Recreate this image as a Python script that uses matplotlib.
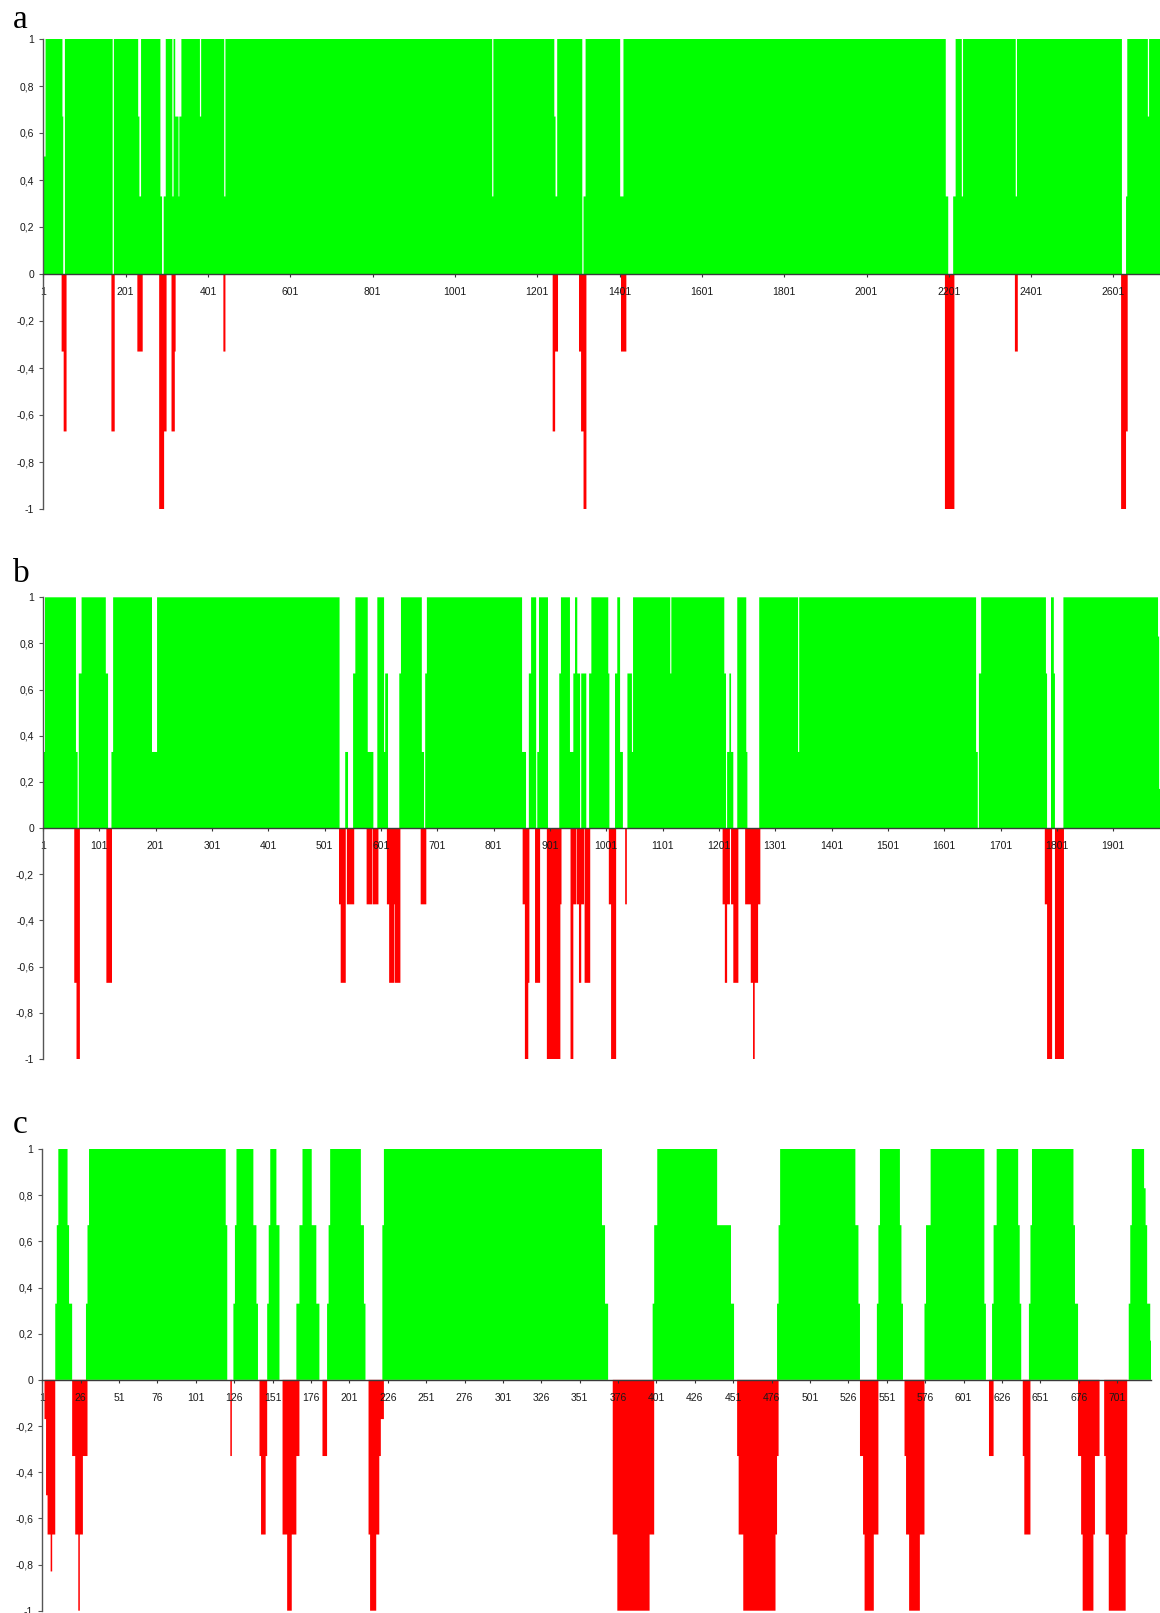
import numpy as np
import matplotlib
matplotlib.use("Agg")
import matplotlib.pyplot as plt
from matplotlib.ticker import FixedLocator, FuncFormatter

plt.rcParams['font.family'] = ['Liberation Sans', 'DejaVu Sans']

GREEN = '#00ff00'
RED = '#ff0000'

# Each run is (first position, last position, value), positions are 1-based.
# Positive series of a and b sit at 1 except inside the listed runs,
# every other series is 0 outside its runs.

# ---- panel a ----
A_LENGTH = 2714
A_POS_BASE = 1.0
A_POS_RUNS = [
    (1, 6, 0.5),
    (48, 49, 0.67), (50, 53, 0.0),
    (170, 172, 0.0),
    (232, 234, 0.67), (235, 238, 0.33),
    (286, 289, 0.33), (290, 293, 0.0), (294, 298, 0.33),
    (315, 317, 0.33), (322, 329, 0.67), (330, 331, 0.33), (332, 336, 0.67),
    (382, 384, 0.67),
    (441, 443, 0.33),
    (1092, 1094, 0.33),
    (1243, 1245, 0.67), (1246, 1249, 0.33),
    (1311, 1313, 0.0), (1314, 1318, 0.33),
    (1403, 1410, 0.33),
    (2194, 2199, 0.33), (2200, 2211, 0.0), (2212, 2217, 0.33),
    (2233, 2235, 0.33),
    (2364, 2366, 0.33),
    (2622, 2631, 0.0), (2632, 2634, 0.33),
    (2685, 2687, 0.67),
]
A_NEG_RUNS = [
    (46, 50, -0.33), (51, 57, -0.67),
    (167, 174, -0.67),
    (230, 242, -0.33),
    (283, 294, -1.0), (295, 300, -0.67),
    (313, 320, -0.67), (321, 322, -0.33),
    (439, 443, -0.33),
    (1239, 1244, -0.67), (1245, 1251, -0.33),
    (1303, 1307, -0.33), (1308, 1313, -0.67), (1314, 1320, -1.0),
    (1405, 1417, -0.33),
    (2192, 2214, -1.0),
    (2362, 2368, -0.33),
    (2620, 2631, -1.0), (2632, 2635, -0.67),
]
A_TICKS = [1, 201, 401, 601, 801, 1001, 1201, 1401, 1601, 1801, 2001, 2201, 2401, 2601]

# ---- panel b ----
B_LENGTH = 1984
B_POS_BASE = 1.0
B_POS_RUNS = [
    (1, 4, 0.33),
    (60, 62, 0.33), (63, 64, 0.0), (65, 69, 0.67),
    (113, 116, 0.67), (117, 122, 0.0), (123, 125, 0.33),
    (195, 203, 0.33),
    (528, 537, 0.0), (538, 542, 0.33), (543, 551, 0.0), (552, 555, 0.67),
    (578, 587, 0.33), (588, 594, 0.0),
    (607, 608, 0.33), (609, 613, 0.67), (614, 633, 0.0), (634, 636, 0.67),
    (674, 677, 0.33), (678, 679, 0.0), (680, 682, 0.67),
    (852, 858, 0.33), (859, 863, 0.0), (864, 867, 0.67),
    (877, 878, 0.0), (879, 881, 0.33), (898, 917, 0.0), (918, 920, 0.67),
    (937, 942, 0.33), (943, 945, 0.67), (950, 954, 0.67), (955, 956, 0.0),
    (957, 965, 0.67), (966, 970, 0.0), (971, 974, 0.67),
    (1005, 1006, 0.67), (1007, 1016, 0.0), (1017, 1020, 0.67),
    (1026, 1030, 0.33), (1031, 1038, 0.0), (1039, 1046, 0.67), (1047, 1048, 0.33),
    (1115, 1116, 0.67),
    (1211, 1213, 0.67), (1214, 1215, 0.0), (1216, 1219, 0.33), (1220, 1222, 0.67),
    (1223, 1226, 0.33), (1227, 1233, 0.0), (1250, 1251, 0.33), (1252, 1272, 0.0),
    (1342, 1343, 0.33),
    (1658, 1660, 0.33), (1661, 1662, 0.0), (1663, 1666, 0.67),
    (1782, 1783, 0.67), (1784, 1790, 0.0), (1796, 1797, 0.67), (1798, 1812, 0.0),
    (1981, 1982, 0.83), (1983, 1984, 0.17),
]
B_NEG_RUNS = [
    (57, 60, -0.67), (61, 66, -1.0),
    (114, 123, -0.67),
    (527, 529, -0.33), (530, 538, -0.67), (541, 553, -0.33),
    (576, 585, -0.33), (587, 596, -0.33),
    (612, 615, -0.33), (616, 624, -0.67), (625, 625, -0.33), (626, 635, -0.67),
    (672, 681, -0.33),
    (853, 856, -0.33), (857, 862, -1.0), (863, 864, -0.67),
    (875, 883, -0.67),
    (896, 919, -1.0), (920, 921, -0.33),
    (938, 942, -1.0), (943, 947, -0.33),
    (949, 952, -0.33), (953, 956, -0.67), (957, 961, -0.33),
    (963, 972, -0.67),
    (1006, 1009, -0.33), (1010, 1018, -1.0),
    (1035, 1037, -0.33),
    (1208, 1211, -0.33), (1212, 1215, -0.67), (1216, 1220, -0.33),
    (1223, 1226, -0.33), (1227, 1235, -0.67),
    (1248, 1257, -0.33), (1258, 1261, -0.67), (1262, 1264, -1.0),
    (1265, 1270, -0.67), (1271, 1274, -0.33),
    (1780, 1783, -0.33), (1784, 1792, -1.0), (1798, 1813, -1.0),
]
B_TICKS = [1, 101, 201, 301, 401, 501, 601, 701, 801, 901, 1001, 1101, 1201,
           1301, 1401, 1501, 1601, 1701, 1801, 1901]

# ---- panel c ----
C_LENGTH = 723
C_POS_BASE = 0.0
C_POS_RUNS = [
    (10, 10, 0.33), (11, 11, 0.67), (12, 17, 1.0), (18, 18, 0.67), (19, 20, 0.33),
    (30, 30, 0.33), (31, 31, 0.67), (32, 120, 1.0), (121, 121, 0.67),
    (126, 126, 0.33), (127, 127, 0.67), (128, 138, 1.0), (139, 140, 0.67), (141, 141, 0.33),
    (148, 148, 0.33), (149, 149, 0.67), (150, 153, 1.0), (154, 155, 0.67),
    (167, 168, 0.33), (169, 170, 0.67), (171, 176, 1.0), (177, 179, 0.67), (180, 181, 0.33),
    (187, 187, 0.33), (188, 188, 0.67), (189, 208, 1.0), (209, 210, 0.67), (211, 211, 0.33),
    (223, 223, 0.67), (224, 365, 1.0), (366, 367, 0.67), (368, 369, 0.33),
    (399, 399, 0.33), (400, 401, 0.67), (402, 440, 1.0), (441, 449, 0.67), (450, 451, 0.33),
    (480, 480, 0.33), (481, 481, 0.67), (482, 530, 1.0), (531, 532, 0.67), (533, 533, 0.33),
    (545, 545, 0.33), (546, 546, 0.67), (547, 559, 1.0), (560, 560, 0.67), (561, 561, 0.33),
    (576, 576, 0.33), (577, 579, 0.67), (580, 614, 1.0), (615, 615, 0.33),
    (620, 620, 0.33), (621, 622, 0.67), (623, 636, 1.0), (637, 637, 0.67), (638, 638, 0.33),
    (644, 644, 0.33), (645, 645, 0.67), (646, 672, 1.0), (673, 673, 0.67), (674, 675, 0.33),
    (709, 709, 0.33), (710, 710, 0.67), (711, 718, 1.0), (719, 719, 0.83), (720, 720, 0.67),
    (721, 722, 0.33), (723, 723, 0.17),
]
C_NEG_RUNS = [
    (3, 3, -0.17), (4, 4, -0.5), (5, 6, -0.67), (7, 7, -0.83), (8, 9, -0.67),
    (21, 22, -0.33), (23, 24, -0.67), (25, 25, -1.0), (26, 27, -0.67), (28, 30, -0.33),
    (124, 124, -0.33),
    (143, 143, -0.33), (144, 146, -0.67), (147, 147, -0.33),
    (158, 160, -0.67), (161, 163, -1.0), (164, 166, -0.67), (167, 168, -0.33),
    (184, 186, -0.33),
    (214, 214, -0.67), (215, 218, -1.0), (219, 220, -0.67), (221, 221, -0.33), (222, 223, -0.17),
    (373, 375, -0.67), (376, 396, -1.0), (397, 399, -0.67),
    (454, 454, -0.33), (455, 457, -0.67), (458, 478, -1.0), (479, 479, -0.67), (480, 480, -0.33),
    (534, 535, -0.33), (536, 536, -0.67), (537, 542, -1.0), (543, 545, -0.67),
    (563, 563, -0.33), (564, 565, -0.67), (566, 572, -1.0), (573, 575, -0.67),
    (618, 620, -0.33),
    (640, 640, -0.33), (641, 644, -0.67),
    (676, 677, -0.33), (678, 678, -0.67), (679, 685, -1.0), (686, 686, -0.67), (687, 689, -0.33),
    (693, 693, -0.33), (694, 695, -0.67), (696, 706, -1.0), (707, 707, -0.67),
]
C_TICKS = [1, 26, 51, 76, 101, 126, 151, 176, 201, 226, 251, 276, 301, 326, 351,
           376, 401, 426, 451, 476, 501, 526, 551, 576, 601, 626, 651, 676, 701]

Y_TICKS = [-1, -0.8, -0.6, -0.4, -0.2, 0, 0.2, 0.4, 0.6, 0.8, 1]


def expand(length, runs, base):
    # one value per position, built from the run list
    values = np.full(length, base, dtype=float)
    for start, end, v in runs:
        values[start - 1:end] = v
    return values


def comma_label(v, pos=None):
    return f"{v:g}".replace('.', ',')


def draw_panel(fig, rect, letter, letter_xy, length, pos_base, pos_runs, neg_runs, ticks):
    ax = fig.add_axes(rect)
    edges = np.arange(length + 1) + 0.5
    pos = expand(length, pos_runs, pos_base)
    neg = expand(length, neg_runs, 0.0)
    ax.stairs(pos, edges, baseline=0, fill=True, color=GREEN, linewidth=0)
    ax.stairs(neg, edges, baseline=0, fill=True, color=RED, linewidth=0)

    ax.set_xlim(1, length)
    ax.set_ylim(-1, 1)

    for side in ('top', 'right'):
        ax.spines[side].set_visible(False)
    ax.spines['bottom'].set_position(('data', 0))
    ax.spines['bottom'].set_color('#3a3a3a')
    ax.spines['bottom'].set_linewidth(1.0)
    ax.spines['left'].set_color('#555555')
    ax.spines['left'].set_linewidth(1.0)

    ax.xaxis.set_major_locator(FixedLocator(ticks))
    ax.set_xticklabels([str(t) for t in ticks])
    ax.yaxis.set_major_locator(FixedLocator(Y_TICKS))
    ax.yaxis.set_major_formatter(FuncFormatter(comma_label))

    ax.tick_params(axis='x', direction='out', length=2.5, width=0.8, pad=7,
                   labelsize=7.5, colors='#333333', labelcolor='#1a1a1a')
    ax.tick_params(axis='y', direction='out', length=3, width=0.8, pad=3.5,
                   labelsize=7.5, colors='#555555', labelcolor='#1a1a1a')

    fig.text(letter_xy[0], letter_xy[1], letter, family='Liberation Serif',
             fontsize=24, ha='left', va='baseline', color='black')
    return ax


W, H = 1160, 1613
fig = plt.figure(figsize=(W / 100, H / 100), dpi=100)

draw_panel(fig, [43.3 / W, 1 - 509 / H, (W - 43.3) / W, 470 / H],
           'a', (13 / W, 1 - 27.5 / H),
           A_LENGTH, A_POS_BASE, A_POS_RUNS, A_NEG_RUNS, A_TICKS)
draw_panel(fig, [43 / W, 1 - 1059 / H, (W - 43) / W, 461.7 / H],
           'b', (13 / W, 1 - 582 / H),
           B_LENGTH, B_POS_BASE, B_POS_RUNS, B_NEG_RUNS, B_TICKS)
draw_panel(fig, [42.2 / W, 1 - 1610.7 / H, (1151 - 42.2) / W, 461.7 / H],
           'c', (13 / W, 1 - 1133 / H),
           C_LENGTH, C_POS_BASE, C_POS_RUNS, C_NEG_RUNS, C_TICKS)

fig.savefig('out.png', dpi=100)
